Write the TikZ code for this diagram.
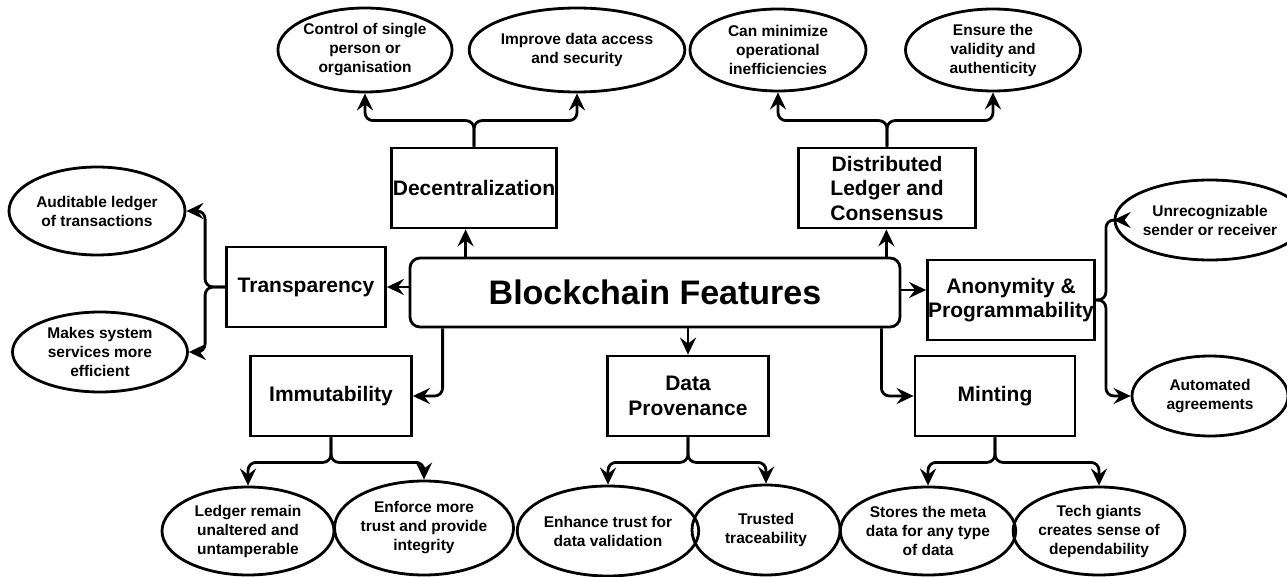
\documentclass[tikz,border=0pt]{standalone}
\usepackage{fontspec}
\setmainfont{Liberation Sans}
\usetikzlibrary{shapes.geometric,arrows.meta}
\begin{document}
\begin{tikzpicture}[x=1pt,y=-1pt,
  line width=2.8pt,
  box/.style={draw,rectangle,minimum height=80pt,inner sep=0pt,align=center,
    font=\bfseries\fontsize{21}{24.5}\selectfont},
  ell/.style={draw,ellipse,inner sep=0pt,align=center,
    font=\bfseries\fontsize{15.5}{19}\selectfont},
  tip/.tip={Stealth[length=17pt,width=16pt,inset=6pt,sharp]},
  arr/.style={-tip,rounded corners=8pt}]
\useasboundingbox (0,0) rectangle (1287,577);

% central node
\node[draw,rectangle,rounded corners=10pt,minimum width=490pt,minimum height=69pt,inner sep=0pt,
  font=\bfseries\fontsize{34}{40}\selectfont] (bc) at (655,292.5) {Blockchain Features};

% feature boxes
\node[box,minimum width=165pt] (dec) at (474,188) {Decentralization};
\node[box,minimum width=177pt] (dist) at (887,188) {Distributed\\Ledger and\\Consensus};
\node[box,minimum width=159pt] (trans) at (306,287) {Transparency};
\node[box,minimum width=167pt] (anon) at (1011,300) {Anonymity \&\\Programmability};
\node[box,minimum width=161pt] (imm) at (331,396) {Immutability};
\node[box,minimum width=161pt] (dp) at (688,396) {Data\\Provenance};
\node[box,minimum width=160pt] (mint) at (995,396) {Minting};

% ellipses
\node[ell,minimum width=174pt,minimum height=84pt] (ctrl) at (365,50) {Control of single\\person or\\organisation};
\node[ell,minimum width=170pt,minimum height=84pt] (impr) at (577,50) {Improve data access\\and security};
\node[ell,minimum width=176pt,minimum height=82pt] (mini) at (778,50) {Can minimize\\operational\\inefficiencies};
\node[ell,minimum width=175pt,minimum height=82pt] (ens) at (993,50) {Ensure the\\validity and\\authenticity};
\node[ell,minimum width=176pt,minimum height=88pt] (aud) at (97,211) {Auditable ledger\\of transactions};
\node[ell,minimum width=175pt,minimum height=80pt] (mak) at (100,352) {Makes system\\services more\\efficient};
\node[ell,minimum width=156pt,minimum height=80pt] (unr) at (1210,220) {Unrecognizable\\sender or receiver};
\node[ell,minimum width=156pt,minimum height=80pt] (auto) at (1210,396) {Automated\\agreements};
\node[ell,minimum width=172pt,minimum height=88pt] (led) at (248,531) {Ledger remain\\unaltered and\\untamperable};
\node[ell,minimum width=172pt,minimum height=94pt] (enf) at (424,528) {Enforce more\\trust and provide\\integrity};
\node[ell,minimum width=164pt,minimum height=90pt] (enh) at (608,531) {Enhance trust for\\data validation};
\node[ell,minimum width=148pt,minimum height=90pt] (tru) at (766,530) {Trusted\\traceability};
\node[ell,minimum width=166pt,minimum height=88pt] (sto) at (928,531) {Stores the meta\\data for any type\\of data};
\node[ell,minimum width=168pt,minimum height=88pt] (tec) at (1099,531) {Tech giants\\creates sense of\\dependability};

% central connectors
\coordinate (pdec) at ([xshift=57pt]bc.north west);
\draw[arr] (pdec) -- (dec.south -| pdec);
\coordinate (pdist) at ([xshift=-15pt]bc.north east);
\draw[arr] (pdist) -- (dist.south -| pdist);
\draw[arr] (bc.west |- trans.east) -- (trans.east);
\coordinate (panon) at ([yshift=10pt]anon.west);
\draw[arr] (bc.east |- panon) -- (panon);
\draw[arr] ([xshift=34pt]bc.south west) |- (imm.east);
\draw[arr] (bc.south -| dp.north) -- (dp.north);
\draw[arr] ([xshift=-20pt]bc.south east) |- (mint.west);

% branch connectors
\draw[arr] (dec.north) -- ++(0,-26) -| (ctrl.south);
\draw[arr] (dec.north) -- ++(0,-26) -| (impr.south);
\draw[arr] (dist.north) -- ++(0,-26) -| (mini.south);
\draw[arr] (dist.north) -- ++(0,-26) -| (ens.south);
\draw[arr] (trans.west) -- ++(-20,0) |- (aud.east);
\draw[arr] (trans.west) -- ++(-20,0) |- (mak.east);
\draw[arr] (anon.east) -- ++(10,0) |- (unr.west);
\draw[arr] (anon.east) -- ++(10,0) |- (auto.west);
\draw[arr] (imm.south) -- ++(0,25) -| (led.north);
\draw[arr] (imm.south) -- ++(0,25) -| (enf.north);
\draw[arr] (dp.south) -- ++(0,25) -| (enh.north);
\draw[arr] (dp.south) -- ++(0,25) -| (tru.north);
\draw[arr] (mint.south) -- ++(0,25) -| (sto.north);
\draw[arr] (mint.south) -- ++(0,25) -| (tec.north);
\end{tikzpicture}
\end{document}
